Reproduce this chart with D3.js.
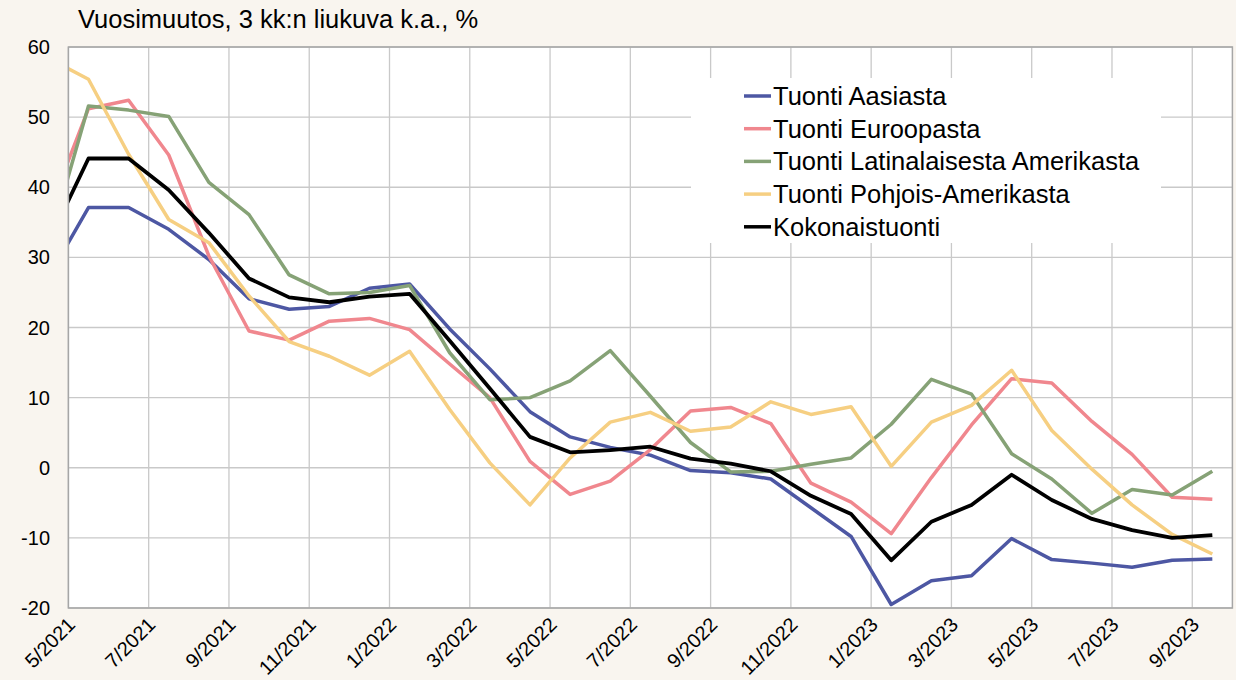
<!DOCTYPE html>
<html>
<head>
<meta charset="utf-8">
<script src="https://cdn.jsdelivr.net/npm/d3@7"></script>
<style>
  body { margin: 0; background: #f9f5ef; }
  svg { display: block; font-family: Arial, "Liberation Sans", sans-serif; }
</style>
</head>
<body>
<div id="chart"></div>
<script>
// months 4/2021 .. 9/2023 (first one only shows as the clipped start of the lines)
var months = ["4/2021","5/2021","6/2021","7/2021","8/2021","9/2021","10/2021","11/2021","12/2021",
  "1/2022","2/2022","3/2022","4/2022","5/2022","6/2022","7/2022","8/2022","9/2022","10/2022","11/2022","12/2022",
  "1/2023","2/2023","3/2023","4/2023","5/2023","6/2023","7/2023","8/2023","9/2023"];

var aasia = [27.1, 37.1, 37.1, 34.0, 29.7, 24.1, 22.6, 23.0, 25.6, 26.2, 19.8, 14.1, 8.0, 4.4, 2.9,
  1.8, -0.4, -0.7, -1.6, -5.7, -9.8, -19.5, -16.1, -15.4, -10.1, -13.1, -13.6, -14.2, -13.2, -13.0];
var eurooppa = [36.4, 51.2, 52.4, 44.6, 30.2, 19.5, 18.2, 20.9, 21.3, 19.7, 14.8, 10.0, 0.9, -3.8, -1.9,
  2.6, 8.1, 8.6, 6.3, -2.2, -4.9, -9.4, -1.4, 6.1, 12.7, 12.1, 6.6, 1.9, -4.2, -4.5];
var latam = [31.6, 51.6, 51.0, 50.1, 40.7, 36.1, 27.5, 24.8, 25.0, 26.0, 16.4, 9.7, 10.0, 12.4, 16.7,
  10.2, 3.6, -0.6, -0.5, 0.5, 1.4, 6.2, 12.6, 10.5, 2.0, -1.6, -6.5, -3.1, -3.9, -0.5];
var pohjoisAm = [58.4, 55.4, 44.7, 35.4, 32.1, 24.5, 18.0, 15.9, 13.2, 16.6, 8.3, 0.7, -5.3, 1.4, 6.5,
  7.9, 5.2, 5.8, 9.4, 7.6, 8.7, 0.2, 6.5, 8.9, 13.9, 5.3, -0.2, -5.3, -9.5, -12.3];
var kokonais = [32.1, 44.1, 44.1, 39.6, 33.5, 27.0, 24.3, 23.6, 24.4, 24.8, 18.1, 11.3, 4.4, 2.2, 2.5,
  3.0, 1.3, 0.6, -0.5, -4.0, -6.6, -13.2, -7.7, -5.3, -1.0, -4.6, -7.3, -8.9, -10.0, -9.6];

var seriesNames = ["Tuonti Aasiasta", "Tuonti Euroopasta", "Tuonti Latinalaisesta Amerikasta",
  "Tuonti Pohjois-Amerikasta", "Kokonaistuonti"];
var seriesData = [aasia, eurooppa, latam, pohjoisAm, kokonais];
var seriesColors = ["#4d57a3", "#f0878e", "#86a276", "#f6cf82", "#000000"];

var yTicks = [-20, -10, 0, 10, 20, 30, 40, 50, 60];
var title = "Vuosimuutos, 3 kk:n liukuva k.a., %";

var width = 1236, height = 680;
var plot = {left: 68.4, right: 1232.4, top: 47, bottom: 608};

var svg = d3.select("#chart").append("svg")
  .attr("width", width)
  .attr("height", height);

svg.append("rect").attr("width", width).attr("height", height).attr("fill", "#f9f5ef");

// x: month index, each month is one band, point at band centre
var x = d3.scaleLinear()
  .domain([0.5, months.length - 0.5])
  .range([plot.left, plot.right]);
var y = d3.scaleLinear()
  .domain([-20, 60])
  .range([plot.bottom, plot.top]);

// plot area
svg.append("rect")
  .attr("x", plot.left).attr("y", plot.top)
  .attr("width", plot.right - plot.left).attr("height", plot.bottom - plot.top)
  .attr("fill", "#ffffff");

// label every second month, starting 5/2021
var labelIdx = d3.range(1, months.length, 2);

// horizontal grid
svg.append("g").selectAll("line")
  .data(yTicks)
  .enter().append("line")
  .attr("x1", plot.left).attr("x2", plot.right)
  .attr("y1", function(d) { return y(d); })
  .attr("y2", function(d) { return y(d); })
  .attr("stroke", "#c9c9c9").attr("stroke-width", 1.3);

// vertical grid at the left edge of labelled months
svg.append("g").selectAll("line")
  .data(labelIdx)
  .enter().append("line")
  .attr("x1", function(d) { return x(d - 0.5); })
  .attr("x2", function(d) { return x(d - 0.5); })
  .attr("y1", plot.top).attr("y2", plot.bottom)
  .attr("stroke", "#c9c9c9").attr("stroke-width", 1.3);

// y labels
svg.append("g").selectAll("text")
  .data(yTicks)
  .enter().append("text")
  .attr("x", 50)
  .attr("y", function(d) { return y(d); })
  .attr("dy", "0.35em")
  .attr("text-anchor", "end")
  .style("font-size", "20px")
  .attr("fill", "#000")
  .text(function(d) { return d; });

// x labels, rotated, ending just right of the gridline
svg.append("g").selectAll("text")
  .data(labelIdx)
  .enter().append("text")
  .attr("transform", function(d) { return "translate(" + (x(d - 0.5) + 8) + ",626) rotate(-45)"; })
  .attr("text-anchor", "end")
  .style("font-size", "20px")
  .attr("fill", "#000")
  .text(function(d) { return months[d]; });

// clip lines to plot area
svg.append("clipPath").attr("id", "plotClip")
  .append("rect")
  .attr("x", plot.left).attr("y", plot.top)
  .attr("width", plot.right - plot.left).attr("height", plot.bottom - plot.top);

var line = d3.line()
  .x(function(d, i) { return x(i); })
  .y(function(d) { return y(d); });

var lines = svg.append("g").attr("clip-path", "url(#plotClip)");
seriesData.forEach(function(s, k) {
  lines.append("path")
    .datum(s)
    .attr("d", line)
    .attr("fill", "none")
    .attr("stroke", seriesColors[k])
    .attr("stroke-width", k == 4 ? 3.8 : 3.5)
    .attr("stroke-linejoin", "round");
});

// plot border
svg.append("rect")
  .attr("x", plot.left).attr("y", plot.top)
  .attr("width", plot.right - plot.left).attr("height", plot.bottom - plot.top)
  .attr("fill", "none")
  .attr("stroke", "#a6a6a6").attr("stroke-width", 1.5);

// legend box
var legend = svg.append("g");
legend.append("rect")
  .attr("x", 691).attr("y", 78)
  .attr("width", 470).attr("height", 165)
  .attr("fill", "#ffffff");

seriesNames.forEach(function(name, k) {
  var ly = 96 + k * 32.7;
  legend.append("line")
    .attr("x1", 744).attr("x2", 771)
    .attr("y1", ly).attr("y2", ly)
    .attr("stroke", seriesColors[k])
    .attr("stroke-width", 3.5);
  legend.append("text")
    .attr("x", 773).attr("y", ly)
    .attr("dy", "0.35em")
    .style("font-size", "25.5px")
    .attr("fill", "#000")
    .text(name);
});

// title
svg.append("text")
  .attr("x", 78).attr("y", 28)
  .style("font-size", "25.5px")
  .attr("fill", "#000")
  .text(title);
</script>
</body>
</html>
